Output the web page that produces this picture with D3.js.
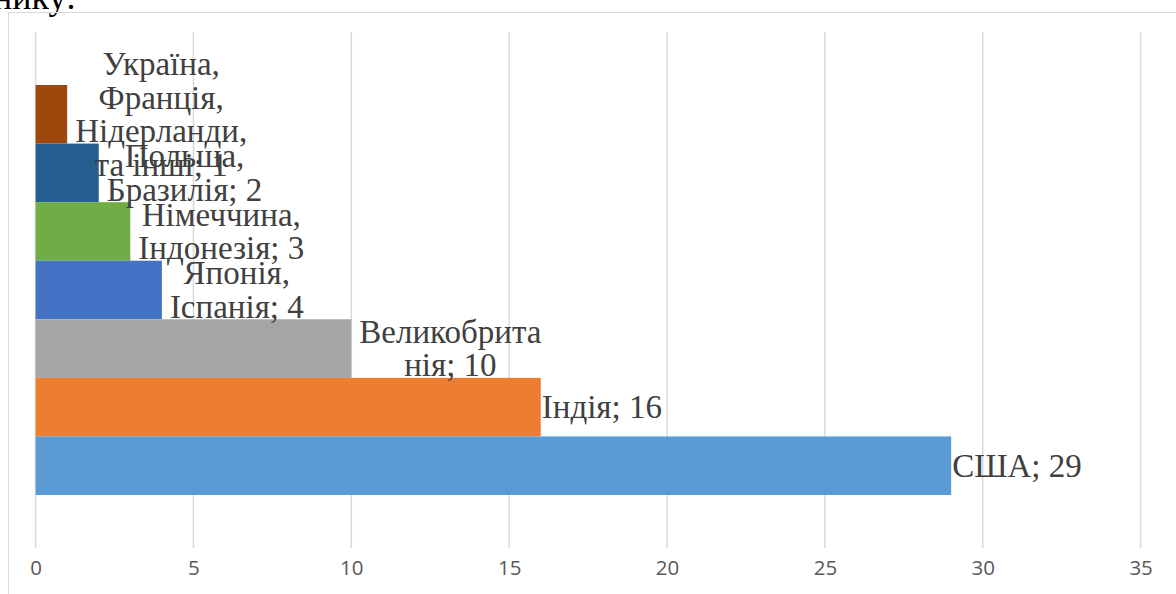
<!DOCTYPE html>
<html>
<head>
<meta charset="utf-8">
<script src="https://cdn.jsdelivr.net/npm/d3@7"></script>
<style>
  html, body { margin: 0; padding: 0; background: #fff; overflow: hidden; }
  svg { display: block; }
</style>
</head>
<body>
<svg id="chart" width="1176" height="594"></svg>
<script>
// ---- data (top to bottom) ----
const categories = [
  "Україна,\nФранція,\nНідерланди,\nта інші",
  "Польща,\nБразилія",
  "Німеччина,\nІндонезія",
  "Японія,\nІспанія",
  "Великобрита\nнія",
  "Індія",
  "США"
];
const values = [1, 2, 3, 4, 10, 16, 29];
const colors = ["#9E480E", "#255E91", "#70AD47", "#4472C4", "#A5A5A5", "#ED7D31", "#5B9BD5"];
const xTicks = [0, 5, 10, 15, 20, 25, 30, 35];
const headingText = "нику:";

// ---- layout ----
const svg = d3.select("#chart");
const W = 1176, H = 594;
const plot = { left: 35.6, right: 1140.6, top: 32, bottom: 548 };

// cut heading at the very top
svg.append("text")
  .attr("x", -7).attr("y", 9)
  .attr("font-family", "'Liberation Serif', 'Times New Roman', serif")
  .attr("font-size", 36)
  .attr("fill", "#000")
  .text(headingText);

// chart frame
svg.append("rect")
  .attr("x", 8.5).attr("y", 12.5)
  .attr("width", W).attr("height", H)
  .attr("fill", "none")
  .attr("stroke", "#d9d9d9")
  .attr("stroke-width", 1);

const x = d3.scaleLinear().domain([0, 35]).range([plot.left, plot.right]);
const idx = d3.range(values.length);
const y = d3.scaleBand().domain(idx).range([plot.top, plot.bottom])
  .paddingInner(0).paddingOuter(0.905);

// gridlines
svg.append("g").selectAll("line").data(xTicks).join("line")
  .attr("x1", d => x(d)).attr("x2", d => x(d))
  .attr("y1", plot.top).attr("y2", plot.bottom)
  .attr("stroke", "#d9d9d9").attr("stroke-width", 1.5);

// axis labels
const axis = d3.axisBottom(x).tickValues(xTicks).tickSize(0).tickPadding(0);
const gAxis = svg.append("g").attr("transform", `translate(0, ${plot.bottom})`).call(axis);
gAxis.select(".domain").remove();
gAxis.selectAll("text")
  .attr("y", 0).attr("dy", 0)
  .attr("transform", "translate(0, 26.5)")
  .attr("font-family", "'Open Sans', 'Liberation Sans', sans-serif")
  .attr("font-size", 20.5)
  .attr("fill", "#595959");

// bars
svg.append("g").selectAll("rect").data(idx).join("rect")
  .attr("x", x(0))
  .attr("y", i => y(i))
  .attr("width", i => x(values[i]) - x(0))
  .attr("height", y.bandwidth())
  .attr("fill", i => colors[i]);

// data labels
const fs = 33, lh = 33.5;
const gLab = svg.append("g")
  .attr("font-family", "'Liberation Serif', 'Times New Roman', serif")
  .attr("font-size", fs)
  .attr("fill", "#404040");

idx.forEach(i => {
  const lines = (categories[i] + "; " + values[i]).split("\n");
  const cy = y(i) + y.bandwidth() / 2;
  const t = gLab.append("text").attr("text-anchor", "middle");
  lines.forEach((ln, k) => {
    t.append("tspan")
      .attr("y", cy - lines.length * lh / 2 + 0.84 * fs + k * lh)
      .text(ln);
  });
  // measure widest line, place box just right of bar end
  let maxW = 0;
  t.selectAll("tspan").each(function () { maxW = Math.max(maxW, this.getComputedTextLength()); });
  const pad = lines.length > 1 ? 8 : 1;
  const cx = x(values[i]) + pad + maxW / 2;
  t.selectAll("tspan").attr("x", cx);
});
</script>
</body>
</html>
